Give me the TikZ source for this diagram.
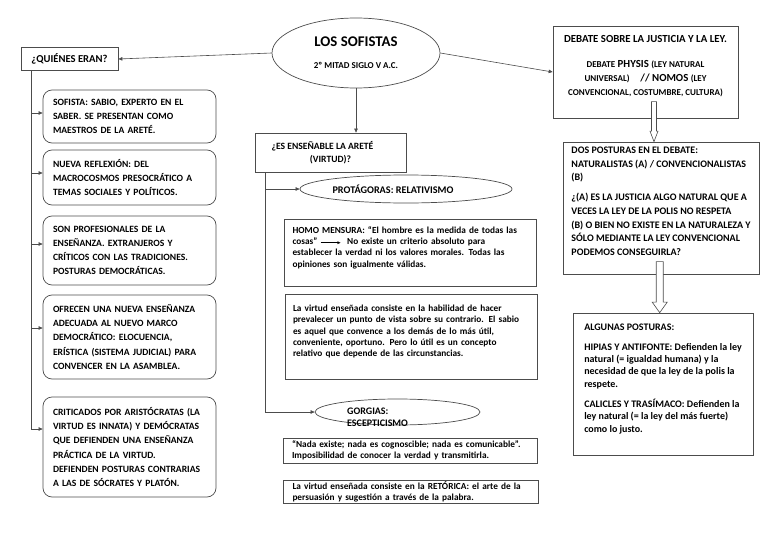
\documentclass[tikz,border=0pt]{standalone}
\usepackage{fontspec}
\usepackage{amssymb}
\setmainfont{Carlito}
\usetikzlibrary{shapes.geometric, arrows.meta, positioning, calc}

% empty last line, lifts the text of a box a little
\newcommand\padbottom{\\\rule{0pt}{4pt}}

\tikzset{
  oval/.style={ellipse, draw=black!70, line width=0.7pt, inner sep=0pt},
  plainbox/.style={rectangle, draw=black!70, line width=0.7pt, inner sep=0pt},
  roundbox/.style={rectangle, rounded corners=9pt, draw=black!70, line width=0.7pt,
    minimum width=173pt, inner sep=0pt, text width=153pt, align=left,
    font=\fontsize{9.6}{14.2}\selectfont\bfseries},
  textbox/.style={plainbox, minimum width=252pt, text width=236pt, align=left,
    font=\fontsize{9.3}{11.2}\selectfont\bfseries},
  link/.style={draw=black!70, line width=0.6pt, -{Triangle[length=4pt,width=3.5pt]}},
  hollowline/.style={draw=black!70, fill=white, line width=0.6pt, line join=miter},
}

\begin{document}
\begin{tikzpicture}[x=1pt, y=-1pt]
  \useasboundingbox (0,0) rectangle (768,543);

  % centre
  \node[oval, minimum width=168pt, minimum height=70pt, align=center] (sofistas) at (356,53)
    {\fontsize{14.8}{15}\selectfont\bfseries LOS SOFISTAS\\[10pt]
     \fontsize{9}{10}\selectfont\bfseries 2º MITAD SIGLO V A.C.};

  % who were they
  \node[plainbox, minimum width=97pt, minimum height=23pt,
    font=\fontsize{10.6}{12}\selectfont\bfseries] (quienes) at (69.5,59) {¿QUIÉNES ERAN?};
  \draw[link] (sofistas.west) -- (quienes.east);

  \node[roundbox, minimum height=53pt] (sofista) at (129.5,116.5)
    {SOFISTA: SABIO, EXPERTO EN EL\\SABER. SE PRESENTAN COMO\\MAESTROS DE LA ARETÉ.};
  \node[roundbox, minimum height=55pt] (reflexion) at (129.5,177.5)
    {NUEVA REFLEXIÓN: DEL\\MACROCOSMOS PRESOCRÁTICO A\\TEMAS SOCIALES Y POLÍTICOS.};
  \node[roundbox, minimum height=69pt] (profesionales) at (129.5,250.5)
    {SON PROFESIONALES DE LA\\ENSEÑANZA. EXTRANJEROS Y\\CRÍTICOS CON LAS TRADICIONES.\\POSTURAS DEMOCRÁTICAS.};
  \node[roundbox, minimum height=84pt] (ensenanza) at (129.5,337)
    {OFRECEN UNA NUEVA ENSEÑANZA\\ADECUADA AL NUEVO MARCO\\DEMOCRÁTICO: ELOCUENCIA,\\ERÍSTICA (SISTEMA JUDICIAL) PARA\\CONVENCER EN LA ASAMBLEA.};
  \node[roundbox, minimum height=100pt] (criticados) at (129.5,447)
    {CRITICADOS POR ARISTÓCRATAS (LA\\VIRTUD ES INNATA) Y DEMÓCRATAS\\QUE DEFIENDEN UNA ENSEÑANZA\\PRÁCTICA DE LA VIRTUD.\\DEFIENDEN POSTURAS CONTRARIAS\\A LAS DE SÓCRATES Y PLATÓN.};

  \coordinate (trunkL) at ([xshift=11pt]quienes.south west);
  \draw[link] (trunkL) |- ([yshift=18pt]criticados.west);
  \foreach \bx/\dy in {sofista/3.5, reflexion/4.5, profesionales/6.5, ensenanza/9}
    \draw[link] ([yshift=\dy pt]\bx.west -| trunkL) -- ([yshift=\dy pt]\bx.west);

  % teaching virtue
  \node[plainbox, align=center, minimum width=151pt, minimum height=39pt,
    font=\fontsize{9.6}{13}\selectfont\bfseries] (ensenable) at (330.5,152.5)
    {¿ES ENSEÑABLE LA ARETÉ\kern16pt\\(VIRTUD)?};
  \draw[link] (sofistas.south) -- (sofistas.south |- ensenable.north);

  \node[oval, minimum width=212pt, minimum height=28pt,
    font=\fontsize{10.2}{11}\selectfont\bfseries] (protagoras) at (406,189)
    {PROTÁGORAS: RELATIVISMO\kern26pt};
  \node[textbox, minimum height=67pt] (homo) at (410.5,252.5)
    {HOMO MENSURA: “El hombre es la medida de todas las\\
     cosas” \raisebox{2.6pt}{\rule{18pt}{0.5pt}}\kern-1.5pt\scalebox{0.55}{$\blacktriangleright$}\ \ No existe un criterio absoluto para\\
     establecer la verdad ni los valores morales. Todas las\\
     opiniones son igualmente válidas.\padbottom};
  \node[textbox, minimum height=85pt] (relativo) at (411,336.5)
    {La virtud enseñada consiste en la habilidad de hacer\\
     prevalecer un punto de vista sobre su contrario. El sabio\\
     es aquel que convence a los demás de lo más útil,\\
     conveniente, oportuno. Pero lo útil es un concepto\\
     relativo que depende de las circunstancias.\padbottom};

  \node[oval, minimum width=165pt, minimum height=26pt] (gorgias) at (397.5,412) {};
  \node[anchor=north west, inner sep=0pt, align=left,
    font=\fontsize{10}{12}\selectfont\bfseries] (gorgias-txt) at (347,408) {GORGIAS:\\ESCEPTICISMO};
  \node[textbox, minimum width=254pt, minimum height=25pt] (nada) at (410,450.5)
    {“Nada existe; nada es cognoscible; nada es comunicable”.\\
     Imposibilidad de conocer la verdad y transmitirla.};
  \node[textbox, minimum width=255pt, minimum height=23pt] (retorica) at (410.5,491.5)
    {La virtud enseñada consiste en la RETÓRICA: el arte de la\\
     persuasión y sugestión a través de la palabra.};

  \coordinate (trunkM) at ([xshift=11pt]ensenable.south west);
  \draw[link] (trunkM) |- (gorgias.west);
  \draw[link] (trunkM |- protagoras.west) -- (protagoras.west);

  % justice and law
  \node[plainbox, align=center, minimum width=185pt, minimum height=92pt,
    font=\fontsize{10.8}{14}\selectfont\bfseries] (debate) at (645.5,72)
    {DEBATE SOBRE LA JUSTICIA Y LA LEY.\\[11pt]
     {\fontsize{9}{14}\selectfont DEBATE} PHYSIS {\fontsize{9}{14}\selectfont (LEY NATURAL}\\
     {\fontsize{9}{14}\selectfont UNIVERSAL)}\quad// NOMOS {\fontsize{9}{14}\selectfont (LEY}\\
     {\fontsize{9}{14}\selectfont CONVENCIONAL, COSTUMBRE, CULTURA)}\\
     \rule{0pt}{12pt}};
  \draw[link] (sofistas.east) -- (debate.west);

  \node[plainbox, minimum width=196pt, minimum height=132pt, align=left,
    font=\fontsize{10}{13.6}\selectfont\bfseries] (posturas) at (661,208)
    {DOS POSTURAS EN EL DEBATE:\\
     NATURALISTAS (A) / CONVENCIONALISTAS\\
     (B)\\[6.5pt]
     ¿(A) ES LA JUSTICIA ALGO NATURAL QUE A\\
     VECES LA LEY DE LA POLIS NO RESPETA\\
     (B) O BIEN NO EXISTE EN LA NATURALEZA Y\\
     SÓLO MEDIANTE LA LEY CONVENCIONAL\\
     PODEMOS CONSEGUIRLA?\padbottom};
  \node[plainbox, minimum width=180pt, minimum height=142pt, align=left,
    font=\fontsize{10}{12.3}\selectfont\bfseries] (algunas) at (663,384)
    {ALGUNAS POSTURAS:\\[8pt]
     HIPIAS Y ANTIFONTE: Defienden la ley\\
     natural (= igualdad humana) y la\\
     necesidad de que la ley de la polis la\\
     respete.\\[8pt]
     CALICLES Y TRASÍMACO: Defienden la\\
     ley natural (= la ley del más fuerte)\\
     como lo justo.\padbottom};

  % hollow arrows
  \draw[hollowline] ([xshift=-7pt]posturas.north) -- ++(-4,-10.5) -- ++(1.5,0) -- ++(0,-29.5)
    -- ++(5,0) -- ++(0,29.5) -- ++(1.5,0) -- cycle;
  \draw[hollowline] ([xshift=-3.3pt]algunas.north) -- ++(-7.5,-10.5) -- ++(4,0) -- ++(0,-40.5)
    -- ++(7,0) -- ++(0,40.5) -- ++(4,0) -- cycle;
\end{tikzpicture}
\end{document}
